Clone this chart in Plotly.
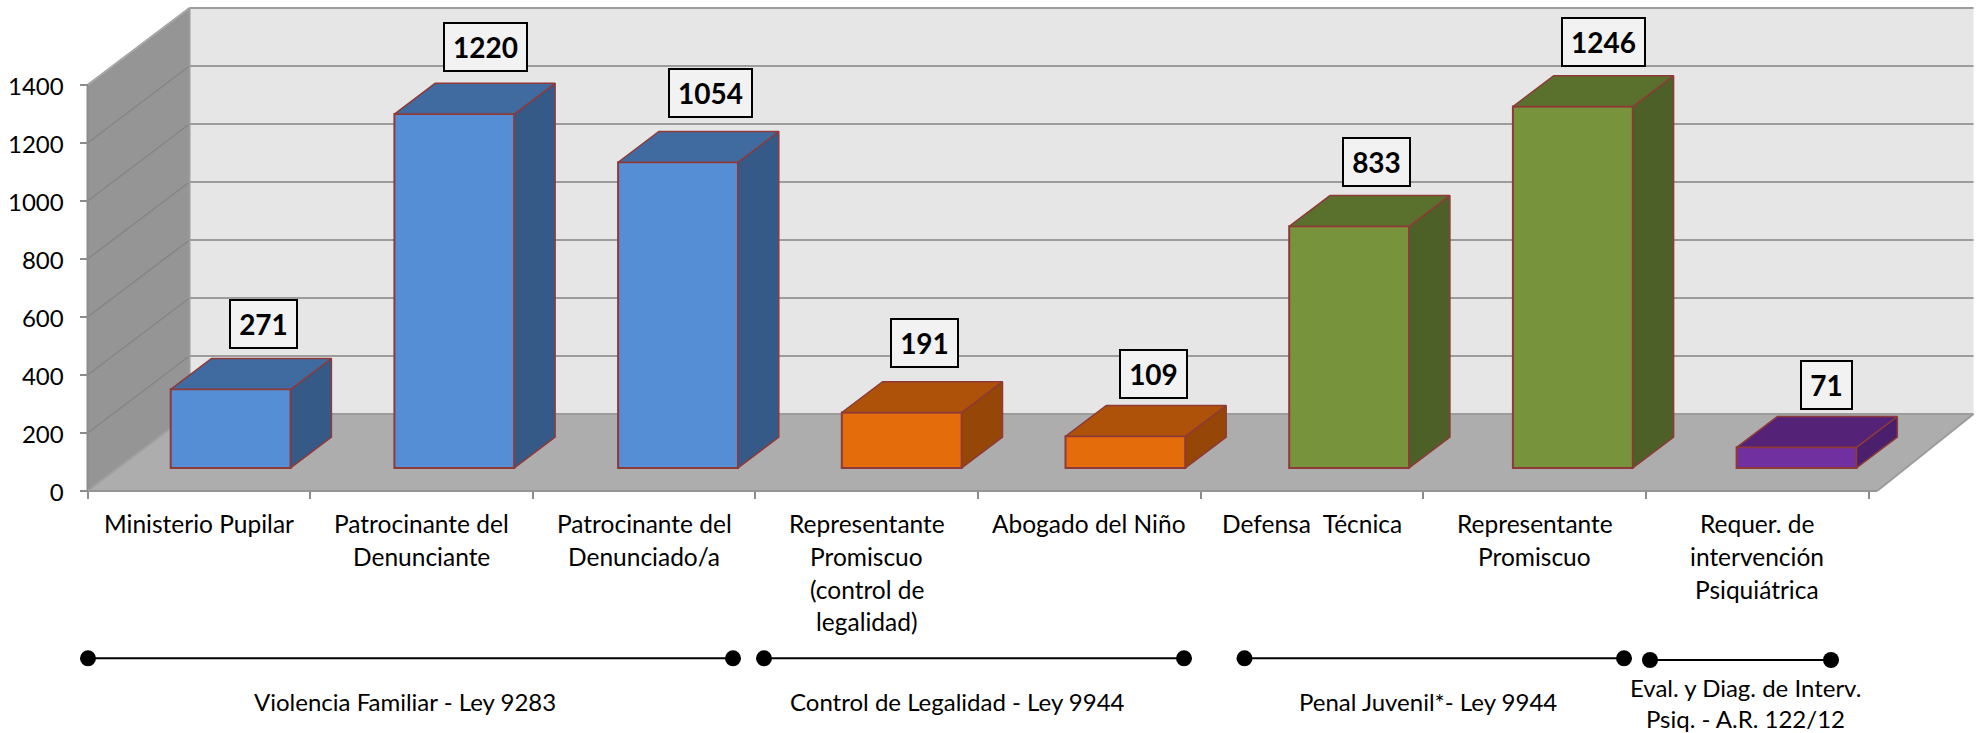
import plotly.graph_objects as go

# ---------- data ----------
categories = ["Ministerio Pupilar", "Patrocinante del\nDenunciante", "Patrocinante del\nDenunciado/a",
              "Representante\nPromiscuo\n(control de\nlegalidad)", "Abogado del Niño", "Defensa  Técnica",
              "Representante\nPromiscuo", "Requer. de\nintervención\nPsiquiátrica"]
values = [271, 1220, 1054, 191, 109, 833, 1246, 71]
y_ticks = [0, 200, 400, 600, 800, 1000, 1200, 1400]
group_labels = ["Violencia Familiar - Ley 9283", "Control de Legalidad - Ley 9944",
                "Penal Juvenil*- Ley 9944", "Eval. y Diag. de Interv.\nPsiq. - A.R. 122/12"]

# ---------- styles ----------
W, H = 1980, 733
X0, Y0 = 87.5, 491.0          # pixel of category 0 / value 0 on the front plane
CAT_PX, VAL_PX = 223.7, 0.29  # pixels per category / per value unit
TICK_PX = 222.66
DEPTH_DX, DEPTH_DY = 102 / CAT_PX, 77 / VAL_PX
WALL_RIGHT = 7.975
BAR_W, D1, D2 = 0.536, 0.30, 0.70
BAR_SHIFT = 0.7 / CAT_PX
FONT = "Lato"
OUTLINE = "#8E3A38"
palette = [("#558ED5", "#3F6BA0", "#355A88")] * 3 + [("#E46C0A", "#AD5208", "#964607")] * 2 + \
          [("#77933C", "#5A702D", "#4D6027")] * 2 + [("#7030A0", "#542378", "#4A1F6B")]
box_widths = {2: 49, 3: 65, 4: 81}
label_dx = [32.5, 31.4, 32, 23, 28, 27, 30.5, 29.5]      # px from the bar's front centre
label_gap = [34.3, 36.3, 38, 39.2, 31.8, 33.3, 34.1, 31.8]  # px above the bar's back top edge


def proj(x, v, d=0.0):
    return x + d * DEPTH_DX, v + d * DEPTH_DY


def px(xp, yp):
    return (xp - X0) / CAT_PX, (Y0 - yp) / VAL_PX


def path(points):
    return "M" + " L".join(f"{x:.4f},{y:.3f}" for x, y in points) + " Z"


fig = go.Figure()
shapes = []
TOP = y_ticks[-1]
# walls
shapes.append(dict(type="path", path=path([proj(0, 0), proj(0, TOP), proj(0, TOP, 1), proj(0, 0, 1)]),
                   fillcolor="#959595", line_width=0, layer="below"))
shapes.append(dict(type="path", path=path([proj(0, 0, 1), proj(0, TOP, 1), proj(WALL_RIGHT, TOP, 1), proj(WALL_RIGHT, 0, 1)]),
                   fillcolor="#E6E6E6", line_width=0, layer="below"))
shapes.append(dict(type="path", path=path([proj(0, 0), proj(8, 0), proj(WALL_RIGHT, 0, 1), proj(0, 0, 1)]),
                   fillcolor="#ADADAD", line_width=0, layer="below"))
# gridlines
for t in y_ticks:
    a, b = proj(0, t), proj(0, t, 1)
    c = proj(WALL_RIGHT, t, 1)
    if t:
        shapes.append(dict(type="line", x0=a[0], y0=a[1], x1=b[0], y1=b[1], line=dict(color="#858585", width=1.5), layer="below"))
    shapes.append(dict(type="line", x0=b[0], y0=b[1], x1=c[0], y1=c[1], line=dict(color="#9C9C9C", width=2), layer="below"))
# axis edges
for p, q, col in [((0, 0, 0), (0, TOP, 0), "#8C8C8C"), ((0, 0, 0), (8, 0, 0), "#959595"),
                  ((0, 0, 0), (0, 0, 1), "#A0A0A0"), ((8, 0, 0), (WALL_RIGHT, 0, 1), "#9C9C9C"),
                  ((0, TOP, 0), (0, TOP, 1), "#A8A8A8"), ((0, 0, 1), (0, TOP, 1), "#9C9C9C")]:
    a, b = proj(*p), proj(*q)
    shapes.append(dict(type="line", x0=a[0], y0=a[1], x1=b[0], y1=b[1], line=dict(color=col, width=2), layer="below"))

centers = [i + 0.5 + BAR_SHIFT for i in range(len(values))]
# front faces
fx = [proj(c, 0, D1)[0] for c in centers]
fig.add_trace(go.Bar(x=fx, y=values, base=[D1 * DEPTH_DY] * len(values), width=BAR_W,
                     marker=dict(color=[p[0] for p in palette], line=dict(color=OUTLINE, width=2)),
                     hoverinfo="skip"))
# top and side faces
for c, v, cols in zip(centers, values, palette):
    l, r = c - BAR_W / 2, c + BAR_W / 2
    side = [proj(r, 0, D1), proj(r, v, D1), proj(r, v, D2), proj(r, 0, D2), proj(r, 0, D1)]
    top = [proj(l, v, D1), proj(r, v, D1), proj(r, v, D2), proj(l, v, D2), proj(l, v, D1)]
    for pts, col in ((side, cols[2]), (top, cols[1])):
        fig.add_trace(go.Scatter(x=[p[0] for p in pts], y=[p[1] for p in pts], mode="lines", fill="toself",
                                 fillcolor=col, line=dict(color=OUTLINE, width=1.5), hoverinfo="skip"))

annotations = []
# value labels
for c, v, dxp, gap in zip(centers, values, label_dx, label_gap):
    _, y = proj(c, v, D2)
    txt = str(v)
    x = proj(c, v, D1)[0] + dxp / CAT_PX
    annotations.append(dict(x=x, y=y, yshift=gap, text=f"<b>{txt}</b>", showarrow=False,
                            font=dict(family=FONT, size=28, color="black"),
                            bgcolor="#F2F2F2", bordercolor="black", borderwidth=2, borderpad=0,
                            width=box_widths[len(txt)], height=46, xanchor="center", yanchor="middle", align="center", valign="middle"))
# category labels
LINE_Y = [523, 556, 589, 621.5]
for i, cat in enumerate(categories):
    xc = TICK_PX * (i + 0.5) / CAT_PX
    for j, line in enumerate(cat.split("\n")):
        annotations.append(dict(x=xc, y=px(0, LINE_Y[j])[1], text=line.replace("  ", "\u00a0 "), showarrow=False,
                                font=dict(family=FONT, size=24.5, color="black"), xanchor="center", yanchor="middle"))
# group brackets and labels
spans = [(88, 733, 658.3), (764, 1184, 658.3), (1244.5, 1624, 658.3), (1650, 1831, 660)]
label_pos = [(405, [701]), (957, [701]), (1427.5, [701]), (1745, [687, 718])]
for (x0, x1, yp), label, (lx, lys) in zip(spans, group_labels, label_pos):
    a, b = px(x0, yp), px(x1, yp)
    fig.add_trace(go.Scatter(x=[a[0], b[0]], y=[a[1], b[1]], mode="lines+markers", hoverinfo="skip",
                             line=dict(color="black", width=2), marker=dict(color="black", size=16)))
    for line, ly in zip(label.split("\n"), lys):
        annotations.append(dict(x=px(lx, 0)[0], y=px(0, ly)[1], text=line, showarrow=False,
                                font=dict(family=FONT, size=24, color="black"), xanchor="center", yanchor="middle"))

fig.update_layout(
    width=W, height=H, margin=dict(l=0, r=0, t=0, b=0), paper_bgcolor="white", plot_bgcolor="white",
    showlegend=False, shapes=shapes, annotations=annotations, barmode="overlay",
    xaxis=dict(domain=[0, 1], range=[px(0, 0)[0], px(W, 0)[0]], anchor="free", position=(H - Y0) / H,
               tickmode="array", tickvals=[i * TICK_PX / CAT_PX for i in range(len(values) + 1)],
               ticks="outside", ticklen=7, tickwidth=1.5, tickcolor="#8C8C8C", showticklabels=False,
               showgrid=False, zeroline=False, showline=False, fixedrange=True),
    yaxis=dict(domain=[0, 1], range=[px(0, H)[1], px(0, 0)[1]], anchor="free", position=X0 / W,
               tickmode="array", tickvals=y_ticks, ticktext=[str(t) for t in y_ticks],
               ticks="outside", ticklen=8, tickwidth=1.5, tickcolor="#8C8C8C", ticklabelstandoff=11,
               ticklabelshift=2,
               tickfont=dict(family=FONT, size=24, color="black"),
               showgrid=False, zeroline=False, showline=False, fixedrange=True),
)
fig.write_html("out.html", config={"displayModeBar": False},
               post_script="document.body.style.margin='0';document.documentElement.style.overflow='hidden';")
